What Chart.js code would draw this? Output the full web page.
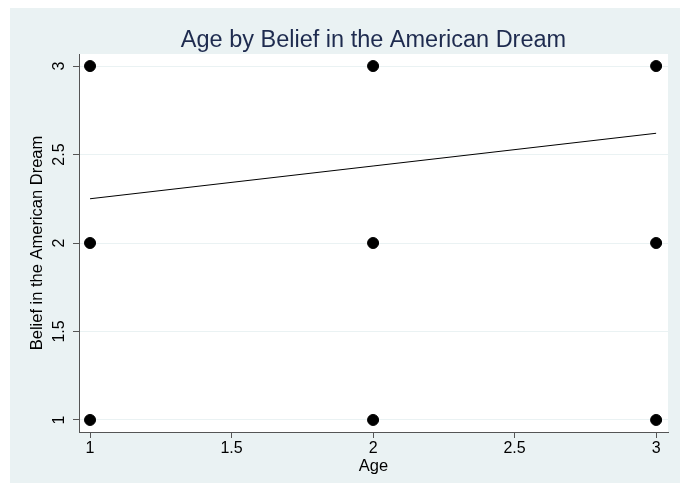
<!DOCTYPE html>
<html lang="en">
<head>
<meta charset="UTF-8">
<title>Age by Belief in the American Dream</title>
<script src="https://cdn.jsdelivr.net/npm/chart.js"></script>
<style>
    * { margin: 0; padding: 0; box-sizing: border-box; }
    body { background: #ffffff; width: 690px; height: 491px; overflow: hidden; }
    .frame {
        position: absolute;
        left: 10px; top: 8px;
        width: 670px; height: 475px;
        background: #eaf2f3;
    }
</style>
</head>
<body>
<div class="frame"><canvas id="scatter" width="670" height="475"></canvas></div>
<script>
    // data
    const ageValues = [1, 1, 1, 2, 2, 2, 3, 3, 3];
    const beliefValues = [1, 2, 3, 1, 2, 3, 1, 2, 3];
    const fitAge = [1, 3];
    const fitBelief = [2.25, 2.62];
    const xTicks = [1, 1.5, 2, 2.5, 3];
    const yTicks = [1, 1.5, 2, 2.5, 3];

    const FONT = '"Liberation Sans", Arial, sans-serif';

    const points = ageValues.map((a, i) => ({ x: a, y: beliefValues[i] }));
    const fitLine = fitAge.map((a, i) => ({ x: a, y: fitBelief[i] }));

    // white plot region, title and vertical y labels (Stata style)
    const stataLook = {
        id: 'stataLook',
        beforeDraw(chart) {
            const { ctx, chartArea } = chart;
            ctx.save();
            ctx.fillStyle = '#ffffff';
            ctx.fillRect(chartArea.left, chartArea.top,
                chartArea.right - chartArea.left, chartArea.bottom - chartArea.top);
            ctx.restore();
        },
        afterDraw(chart) {
            const { ctx, chartArea } = chart;
            const yScale = chart.scales.y;
            ctx.save();
            ctx.fillStyle = '#1e2b4f';
            ctx.font = '23.5px ' + FONT;
            ctx.textAlign = 'center';
            ctx.textBaseline = 'middle';
            ctx.fillText('Age by Belief in the American Dream', (chartArea.left + chartArea.right) / 2, 33);

            ctx.fillStyle = '#000000';
            ctx.font = '16px ' + FONT;
            yScale.ticks.forEach(t => {
                const py = yScale.getPixelForValue(t.value);
                ctx.save();
                ctx.translate(50, py);
                ctx.rotate(-Math.PI / 2);
                ctx.fillText(String(t.value), 0, 0);
                ctx.restore();
            });
            ctx.font = '16.5px ' + FONT;
            ctx.save();
            ctx.translate(27, (chartArea.top + chartArea.bottom) / 2);
            ctx.rotate(-Math.PI / 2);
            ctx.fillText('Belief in the American Dream', 0, 0);
            ctx.restore();
            ctx.restore();
        }
    };

    new Chart(document.getElementById('scatter'), {
        type: 'scatter',
        data: {
            datasets: [
                {
                    label: 'Belief',
                    data: points,
                    backgroundColor: '#000000',
                    borderColor: '#000000',
                    pointRadius: 5.5,
                    pointHoverRadius: 5.5
                },
                {
                    label: 'Fitted values',
                    type: 'line',
                    data: fitLine,
                    borderColor: '#000000',
                    borderWidth: 1,
                    pointRadius: 0,
                    fill: false
                }
            ]
        },
        options: {
            responsive: false,
            animation: false,
            events: [],
            layout: { padding: { left: 0, top: 46, right: 12, bottom: 0 } },
            plugins: {
                legend: { display: false },
                title: { display: false },
                tooltip: { enabled: false }
            },
            scales: {
                x: {
                    type: 'linear',
                    min: 0.961,
                    max: 3.042,
                    afterBuildTicks: s => { s.ticks = xTicks.map(v => ({ value: v })); },
                    afterFit: s => { s.height = 51; },
                    grid: {
                        drawOnChartArea: false,
                        drawTicks: true,
                        tickLength: 6,
                        tickColor: '#555555'
                    },
                    border: { display: true, color: '#555555', width: 1 },
                    ticks: {
                        color: '#000000',
                        font: { family: FONT, size: 16 },
                        padding: 1,
                        maxRotation: 0,
                        autoSkip: false,
                        callback: v => String(v)
                    },
                    title: {
                        display: true,
                        text: 'Age',
                        color: '#000000',
                        font: { family: FONT, size: 16.5 },
                        padding: { top: 0, bottom: 7 }
                    }
                },
                y: {
                    type: 'linear',
                    min: 0.932,
                    max: 3.068,
                    afterBuildTicks: s => { s.ticks = yTicks.map(v => ({ value: v })); },
                    afterFit: s => { s.width = 69; },
                    grid: {
                        color: '#eaf2f3',
                        drawOnChartArea: true,
                        drawTicks: true,
                        tickLength: 6,
                        tickColor: '#555555'
                    },
                    border: { display: true, color: '#555555', width: 1 },
                    ticks: { display: false }
                }
            }
        },
        plugins: [stataLook]
    });
</script>
</body>
</html>
